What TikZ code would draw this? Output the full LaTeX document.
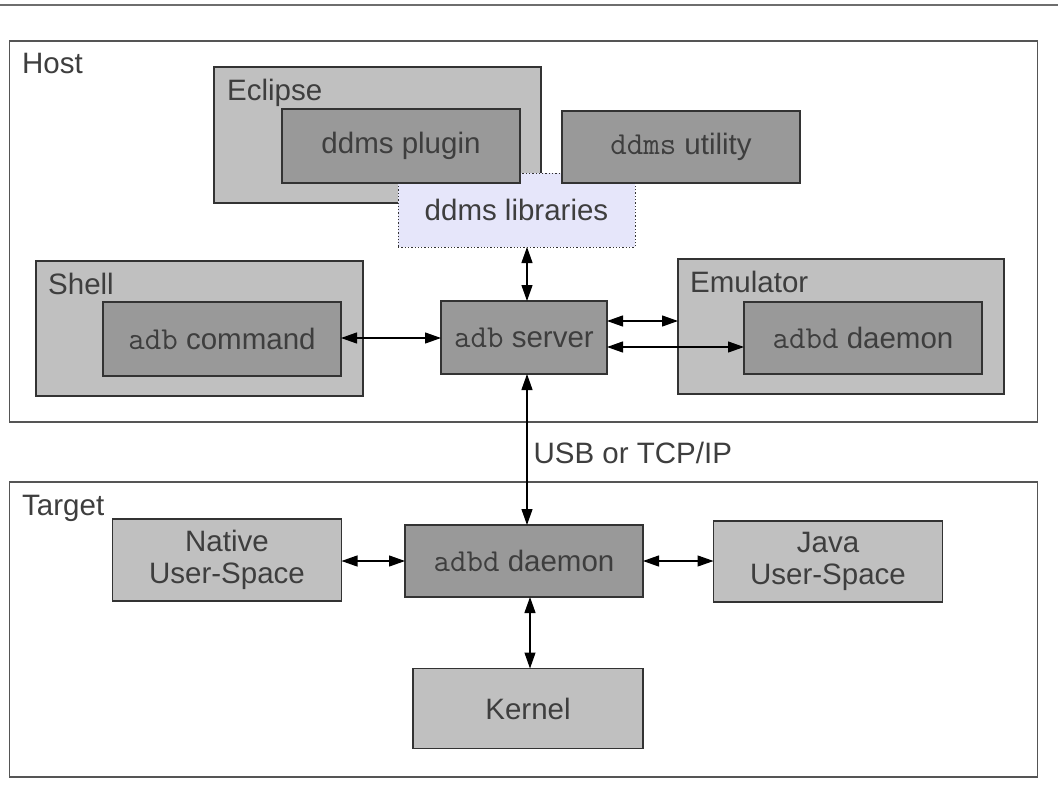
\documentclass[tikz,border=0pt]{standalone}
\usepackage{fontspec}
\setmainfont{Liberation Sans}
\usetikzlibrary{arrows.meta,calc}
\definecolor{grpfill}{RGB}{192,192,192}
\definecolor{innerfill}{RGB}{153,153,153}
\definecolor{libfill}{RGB}{230,230,250}
\definecolor{edgec}{RGB}{51,51,51}
\definecolor{txtc}{RGB}{62,62,62}
\definecolor{topline}{RGB}{110,110,110}
\newcommand{\mono}[1]{{\fontsize{32}{33}\selectfont\ttfamily #1}}
\tikzset{
  base/.style={inner sep=0pt, outer sep=0pt, line width=1.3pt, draw=edgec, text=txtc,
    font=\fontsize{29.5}{33}\selectfont, align=center},
  frame/.style={base, fill=white, draw={rgb,255:red,85;green,85;blue,85}, line width=1.5pt},
  grp/.style={base, fill=grpfill},
  inner/.style={base, fill=innerfill},
  light/.style={base, fill=grpfill},
  lib/.style={base, fill=libfill, dotted, line width=1pt},
  lbl/.style={inner sep=0pt, anchor=base west, text=txtc, font=\fontsize{29.5}{33}\selectfont},
  arr/.style={{Triangle[length=16pt,width=11pt]}-{Triangle[length=16pt,width=11pt]}, line width=1.2pt, black},
}
\begin{document}
\begin{tikzpicture}[x=1pt,y=-1pt]
\useasboundingbox (0,0) rectangle (1058,801);
\fill[white] (0,0) rectangle (1058,801);
\draw[topline, line width=2.5pt] (0,5) -- (1058,5);

% outer frames
\node[frame, minimum width=1028pt, minimum height=381pt] (host) at (523.5,231.5) {};
\node[lbl] (hostl) at (22,73) {Host};
\node[frame, minimum width=1028pt, minimum height=295pt] (target) at (523.5,629.5) {};
\node[lbl] (targetl) at (22,515) {Target};

% Eclipse group
\node[grp, minimum width=327pt, minimum height=136pt] (eclipse) at (377.5,135) {};
\node[lbl] (eclipsel) at (227,100.5) {Eclipse};
\node[lib, minimum width=237pt, minimum height=74pt] (libs) at (516.5,210) {ddms libraries};
\node[inner, minimum width=238pt, minimum height=74pt] (plugin) at (401,146) {ddms plugin};
\node[inner, minimum width=238pt, minimum height=72pt] (utility) at (681,147) {\mono{ddms} utility};

% Shell group
\node[grp, minimum width=327pt, minimum height=135pt] (shell) at (199.5,328.5) {};
\node[lbl] (shelll) at (48,294) {Shell};
\node[inner, minimum width=238pt, minimum height=74pt] (cmd) at (222,339) {\mono{adb} command};

% adb server
\node[inner, minimum width=166pt, minimum height=73pt] (server) at (524,337.5) {\mono{adb} server};

% Emulator group
\node[grp, minimum width=326pt, minimum height=135pt] (emu) at (841,326.5) {};
\node[lbl] (emul) at (690,292) {Emulator};
\node[inner, minimum width=238pt, minimum height=72pt] (adbdE) at (863,338) {\mono{adbd} daemon};

% Target boxes
\node[light, minimum width=229pt, minimum height=82pt] (native) at (227,560) {Native\\[-1pt]User-Space};
\node[inner, minimum width=238pt, minimum height=72pt] (adbdT) at (524,561) {\mono{adbd} daemon};
\node[light, minimum width=229pt, minimum height=81pt] (java) at (828,561.5) {Java\\[-1pt]User-Space};
\node[light, minimum width=230pt, minimum height=80pt] (kernel) at (528,708.5) {Kernel};

% connector helper coordinates
\coordinate (ax) at (527,0);
\coordinate (kx) at (530,0);
\coordinate (y1) at (0,321);
\coordinate (y2) at (0,347);
\coordinate (y3) at (0,338);
\coordinate (y4) at (0,561);

% connectors
\draw[arr] (libs.south -| ax) -- (server.north -| ax);
\draw[arr] (cmd.east |- y3) -- (server.west |- y3);
\draw[arr] (server.east |- y1) -- (emu.west |- y1);
\draw[arr] (server.east |- y2) -- (adbdE.west |- y2);
\draw[arr] (server.south -| ax) -- node[right=6pt, pos=0.52, text=txtc, font=\fontsize{29.5}{33}\selectfont, inner sep=0pt] {USB or TCP/IP} (adbdT.north -| ax);
\draw[arr] (native.east |- y4) -- (adbdT.west |- y4);
\draw[arr] (adbdT.east |- y4) -- (java.west |- y4);
\draw[arr] (adbdT.south -| kx) -- (kernel.north -| kx);
\end{tikzpicture}
\end{document}
